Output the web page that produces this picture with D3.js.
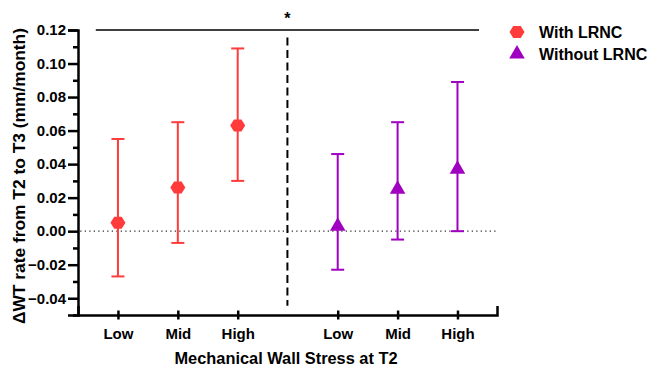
<!DOCTYPE html>
<html>
<head>
<meta charset="utf-8">
<script src="https://cdn.jsdelivr.net/npm/d3@7"></script>
<style>
  body { margin: 0; background: #fff; }
  text { font-family: Arial, "Liberation Sans", sans-serif; font-weight: bold; }
</style>
</head>
<body>
<div id="chart"></div>
<script>
// data
var categories = ["Low", "Mid", "High"];
var groups = ["With LRNC", "Without LRNC"];
var xPos = [[1, 2, 3], [4.67, 5.67, 6.67]];
var withMean = [0.005, 0.026, 0.063];
var withUpper = [0.055, 0.065, 0.109];
var withLower = [-0.027, -0.007, 0.030];
var withoutMean = [0.003, 0.025, 0.037];
var withoutUpper = [0.046, 0.065, 0.089];
var withoutLower = [-0.023, -0.005, 0.000];
var yTicks = [-0.04, -0.02, 0, 0.02, 0.04, 0.06, 0.08, 0.10, 0.12];

var colors = ["#ff3b3b", "#a000c0"];

var svg = d3.select("#chart").append("svg")
    .attr("width", 650)
    .attr("height", 367);

var x = d3.scaleLinear().domain([0.333, 7.33]).range([78, 497]);
var y = d3.scaleLinear().domain([-0.05, 0.12]).range([315, 30]);

// zero line, dotted
svg.append("line")
    .attr("x1", x(0.37)).attr("x2", x(7.33))
    .attr("y1", y(0)).attr("y2", y(0))
    .attr("stroke", "#333").attr("stroke-width", 1.3)
    .attr("stroke-dasharray", "1.3,3.2");

// divider
svg.append("line")
    .attr("x1", x(3.83)).attr("x2", x(3.83))
    .attr("y1", y(0.1155)).attr("y2", y(-0.0445))
    .attr("stroke", "#000").attr("stroke-width", 2)
    .attr("stroke-dasharray", "8,4.5");

// significance bar
svg.append("line")
    .attr("x1", x(0.63)).attr("x2", x(7.03))
    .attr("y1", y(0.12)).attr("y2", y(0.12))
    .attr("stroke", "#000").attr("stroke-width", 1.5);
svg.append("text")
    .attr("x", x(3.83)).attr("y", 24)
    .attr("text-anchor", "middle")
    .style("font-size", "16px")
    .text("*");

// y axis, major ticks
svg.append("g")
    .attr("transform", "translate(" + x(0.333) + ",0)")
    .call(d3.axisLeft(y).tickValues(yTicks).tickSize(10).tickPadding(2)
        .tickFormat(function(d) { return d3.format(".2f")(d); }));
// minor ticks
svg.append("g")
    .attr("transform", "translate(" + x(0.333) + ",0)")
    .call(d3.axisLeft(y).tickValues(d3.range(-0.05, 0.125, 0.01).filter(function(v) {
        return Math.abs(Math.round(v * 100)) % 2 === 1;
    })).tickSize(5).tickFormat(""))
    .select(".domain").remove();

// x axis
var xTickVals = xPos[0].concat(xPos[1]);
var xAxis = svg.append("g")
    .attr("transform", "translate(0," + y(-0.05) + ")")
    .call(d3.axisBottom(x).tickValues(xTickVals).tickSize(-9).tickPadding(10)
        .tickFormat(function(d, i) { return categories[i % 3]; }));
xAxis.selectAll(".tick line").attr("transform", "translate(0,4.5)");

svg.selectAll(".domain").attr("stroke", "#000").attr("stroke-width", 2.5);
svg.selectAll(".tick line").attr("stroke", "#000").attr("stroke-width", 2.5);
svg.selectAll(".tick text").attr("fill", "#000").style("font-size", "15px");
xAxis.selectAll(".tick text").attr("dy", "0.95em");

// axis titles
svg.append("text")
    .attr("transform", "translate(25,176) rotate(-90)")
    .attr("text-anchor", "middle")
    .attr("textLength", 296)
    .attr("lengthAdjust", "spacingAndGlyphs")
    .style("font-size", "16px")
    .text("\u0394WT rate from T2 to T3 (mm/month)");
svg.append("text")
    .attr("x", 286).attr("y", 364)
    .attr("text-anchor", "middle")
    .attr("textLength", 223)
    .attr("lengthAdjust", "spacingAndGlyphs")
    .style("font-size", "16px")
    .text("Mechanical Wall Stress at T2");

// series
var series = [
    { mean: withMean, upper: withUpper, lower: withLower, sym: "hex" },
    { mean: withoutMean, upper: withoutUpper, lower: withoutLower, sym: "tri" }
];

function hexPath(r) {
    var pts = d3.range(6).map(function(i) {
        var a = Math.PI / 3 * i;
        return [r * Math.cos(a), r * Math.sin(a) * 0.92];
    });
    return "M" + pts.join("L") + "Z";
}
var triPath = d3.symbol().type(d3.symbolTriangle).size(105)();

series.forEach(function(s, gi) {
    var col = colors[gi];
    var g = svg.append("g");
    var rows = s.mean.map(function(m, i) {
        return { x: xPos[gi][i], m: m, hi: s.upper[i], lo: s.lower[i] };
    });
    g.selectAll(".eb").data(rows).enter().append("line")
        .attr("x1", function(d) { return x(d.x); })
        .attr("x2", function(d) { return x(d.x); })
        .attr("y1", function(d) { return y(d.hi); })
        .attr("y2", function(d) { return y(d.lo); })
        .attr("stroke", col).attr("stroke-width", 2);
    ["hi", "lo"].forEach(function(k) {
        g.selectAll(".cap" + k).data(rows).enter().append("line")
            .attr("x1", function(d) { return x(d.x) - 6.5; })
            .attr("x2", function(d) { return x(d.x) + 6.5; })
            .attr("y1", function(d) { return y(d[k]); })
            .attr("y2", function(d) { return y(d[k]); })
            .attr("stroke", col).attr("stroke-width", 2);
    });
    g.selectAll(".pt").data(rows).enter().append("path")
        .attr("d", s.sym === "hex" ? hexPath(7.5) : triPath)
        .attr("transform", function(d) { return "translate(" + x(d.x) + "," + y(d.m) + ")"; })
        .attr("fill", col);
});

// legend
var legend = svg.append("g");
groups.forEach(function(name, i) {
    var ly = 32 + i * 22;
    legend.append("path")
        .attr("d", i === 0 ? hexPath(7.5) : triPath)
        .attr("transform", "translate(517," + ly + ")")
        .attr("fill", colors[i]);
    legend.append("text")
        .attr("x", 539).attr("y", ly + 5.5)
        .style("font-size", "16px")
        .text(name);
});
</script>
</body>
</html>
